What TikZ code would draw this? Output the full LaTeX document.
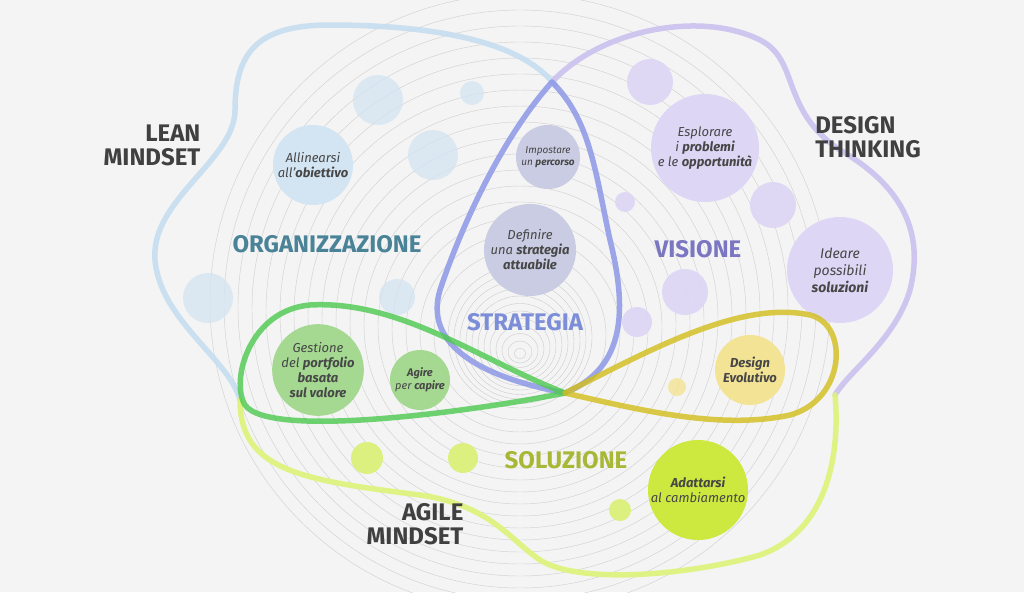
\documentclass[tikz,border=0pt]{standalone}
\usepackage{fontspec}
\setmainfont{Fira Sans}
\begin{document}
\begin{tikzpicture}[x=1pt,y=-1pt,
  big/.style={font=\fontsize{24}{24}\selectfont\bfseries,text=black!75,align=right},
  cat/.style={font=\fontsize{24}{24}\selectfont\bfseries},
  lbl/.style={font=\fontsize{13}{15}\selectfont\itshape,text=black!72,align=center,inner sep=0pt},
  blob/.style={line width=5.5pt,line cap=round,line join=round}]
\definecolor{bg}{HTML}{F4F4F4}
\definecolor{lb}{HTML}{D3E4F2}
\definecolor{lbl2}{HTML}{C6DDEF}
\definecolor{lv}{HTML}{DDD6F5}
\definecolor{lvl}{HTML}{CBC2F0}
\definecolor{sb}{HTML}{C9CCE2}
\definecolor{sbl}{HTML}{8C98E6}
\definecolor{gr}{HTML}{A5D991}
\definecolor{grl}{HTML}{4CC94E}
\definecolor{ye}{HTML}{F3E394}
\definecolor{yel}{HTML}{D2BE1A}
\definecolor{li}{HTML}{DCF080}
\definecolor{lil}{HTML}{DDF37A}
\definecolor{lim}{HTML}{CDE83E}
\definecolor{orgc}{HTML}{4A8298}
\definecolor{visc}{HTML}{7B76C2}
\definecolor{strc}{HTML}{7D8ED8}
\definecolor{solc}{HTML}{A8B736}
\fill[bg] (0,0) rectangle (1024,592);
\useasboundingbox (0,0) rectangle (1024,592);
\begin{scope}
\clip (0,0) rectangle (1024,592);
\foreach \i in {1,...,12}{
  \draw[black!20,line width=0.4pt] (520,{355-1.5*\i}) ellipse ({6*\i} and {6*\i-1});
}
\foreach \i in {1,...,17}{
  \draw[black!18,line width=0.45pt] (520,{337-2*\i}) ellipse ({72+14*\i} and {72+14*\i-1});
}
\end{scope}
% circles
\foreach \x/\y/\r in {378/100/25,472/93/12,433/155/25,208/298/25,397/297/18}
  \fill[lb,opacity=0.75] (\x,\y) circle (\r);
\foreach \x/\y/\r in {650/82/23,625/202/10,773/205/23,685/292/23,637/322/15}
  \fill[lv,opacity=0.9] (\x,\y) circle (\r);
\foreach \x/\y/\r in {367/458/16,463/458/15,620/510/11}
  \fill[li] (\x,\y) circle (\r);
\fill[ye,opacity=0.8] (677,387) circle (9);
\node[circle,fill=lb,minimum size=80pt,lbl] (c1) at (313,165) {Allinearsi\\all'\textbf{obiettivo}};
\node[circle,fill=sb,minimum size=64pt,lbl,font=\fontsize{10}{12}\selectfont\itshape] (c2) at (548,157) {Impostare\\un \textbf{percorso}};
\node[circle,fill=sb,minimum size=92pt,lbl] (c3) at (530,250) {Definire\\una \textbf{strategia}\\\textbf{attuabile}};
\node[circle,fill=lv,minimum size=108pt,lbl] (c4) at (705,148) {Esplorare\\i \textbf{problemi}\\e le \textbf{opportunità}};
\node[circle,fill=lv,minimum size=106pt,lbl,font=\fontsize{14}{17}\selectfont\itshape] (c5) at (840,270) {Ideare\\possibili\\\textbf{soluzioni}};
\node[circle,fill=gr,minimum size=84pt,lbl] (c6) at (318,370) {Gestione\\del \textbf{portfolio}\\\textbf{basata}\\\textbf{sul valore}};
\node[circle,fill=gr,minimum size=60pt,lbl,font=\fontsize{11}{13}\selectfont\itshape] (c7) at (420,380) {\textbf{Agire}\\per \textbf{capire}};
\node[circle,fill=ye,minimum size=70pt,lbl] (c8) at (750,370) {\textbf{Design}\\\textbf{Evolutivo}};
\node[circle,fill=lim,minimum size=100pt,lbl] (c9) at (698,490) {\textbf{Adattarsi}\\al cambiamento};
% blobs
\draw[blob,lbl2,opacity=0.9] (555,85) .. controls (520,40) and (430,25) .. (330,25)
  .. controls (260,25) and (235,50) .. (235,110) .. controls (235,160) and (150,200) .. (155,260)
  .. controls (160,320) and (230,360) .. (240,400);
\draw[blob,lvl,opacity=0.9] (552,82) .. controls (600,30) and (700,10) .. (760,40)
  .. controls (800,60) and (780,110) .. (840,150) .. controls (900,185) and (925,230) .. (910,290)
  .. controls (895,340) and (850,370) .. (835,395);
\draw[blob,lil,opacity=0.9] (240,400) .. controls (240,470) and (300,480) .. (420,495)
  .. controls (490,505) and (510,540) .. (540,560) .. controls (580,585) and (690,575) .. (760,555)
  .. controls (830,530) and (840,450) .. (835,395);
\draw[blob,sbl,opacity=0.85] (552,82) .. controls (500,140) and (460,230) .. (440,290)
  .. controls (425,340) and (470,375) .. (565,393) .. controls (620,370) and (630,320) .. (610,240)
  .. controls (595,170) and (590,120) .. (552,82) -- cycle;
\draw[blob,grl,opacity=0.8] (565,393) .. controls (480,360) and (400,300) .. (310,305)
  .. controls (250,310) and (230,380) .. (245,405) .. controls (270,440) and (480,410) .. (565,393);
\draw[blob,yel,opacity=0.8] (565,393) .. controls (650,350) and (740,300) .. (810,315)
  .. controls (850,325) and (845,400) .. (790,415) .. controls (720,430) and (640,410) .. (565,393);
% labels
\node[big] (lean) at (152,145) {LEAN\\MINDSET};
\node[big,align=left] (dt) at (868,137) {DESIGN\\THINKING};
\node[big] (agile) at (415,524) {AGILE\\MINDSET};
\node[cat,text=orgc] (org) at (327,244) {ORGANIZZAZIONE};
\node[cat,text=visc] (vis) at (698,249) {VISIONE};
\node[cat,text=strc] (str) at (525,322) {STRATEGIA};
\node[cat,text=solc] (sol) at (566,460) {SOLUZIONE};
\end{tikzpicture}
\end{document}
